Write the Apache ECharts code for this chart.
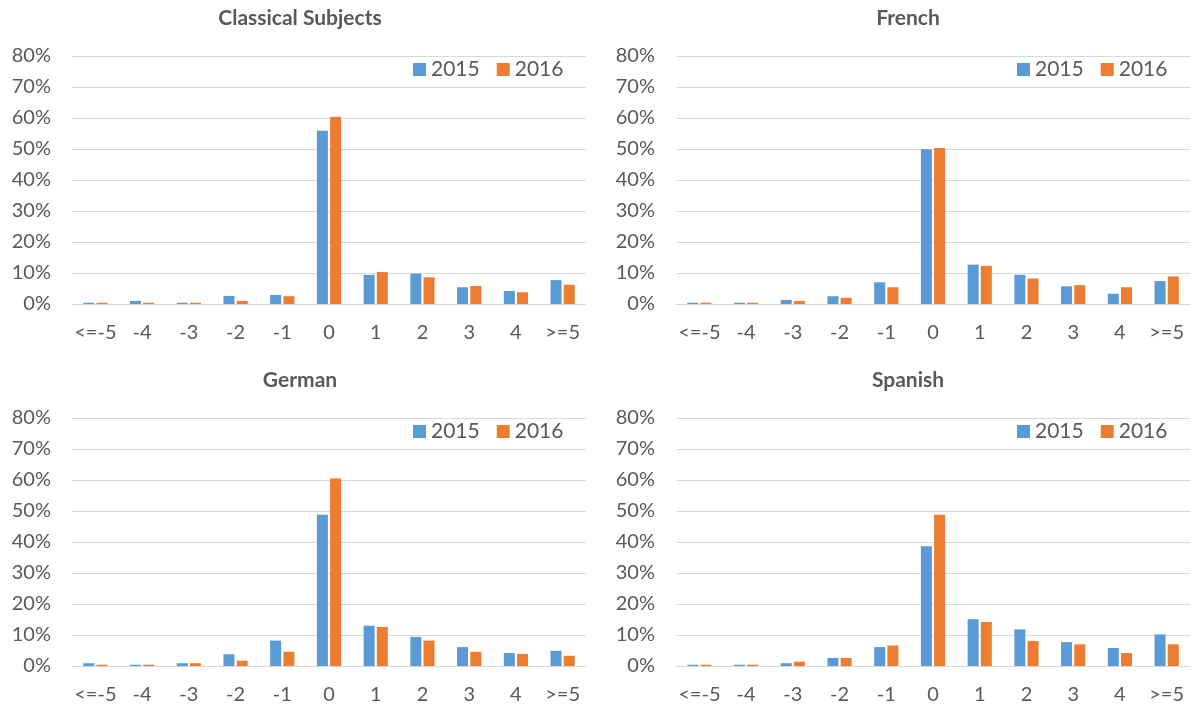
<!DOCTYPE html>
<html>
<head>
<meta charset="utf-8">
<title>Grade changes 2015 vs 2016</title>
<script src="https://cdn.jsdelivr.net/npm/echarts@6/dist/echarts.min.js"></script>
<style>
  html, body { margin: 0; padding: 0; background: #fff; }
  #chart { width: 1192px; height: 711px; }
</style>
</head>
<body>
<div id="chart"></div>
<script>
// categories (grade difference)
var categories = ['<=-5', '-4', '-3', '-2', '-1', '0', '1', '2', '3', '4', '>=5']
var years = ['2015', '2016']
var subjects = ['Classical Subjects', 'French', 'German', 'Spanish']

// shares in percent
var classical2015 = [0.4, 1.0, 0.4, 2.6, 2.9, 55.9, 9.4, 9.8, 5.4, 4.2, 7.7]
var classical2016 = [0.4, 0.4, 0.4, 1.0, 2.5, 60.4, 10.3, 8.6, 5.8, 3.8, 6.2]
var french2015 = [0.4, 0.4, 1.3, 2.5, 7.0, 49.9, 12.7, 9.4, 5.7, 3.3, 7.4]
var french2016 = [0.4, 0.4, 1.0, 2.0, 5.4, 50.3, 12.3, 8.2, 6.1, 5.4, 8.9]
var german2015 = [0.9, 0.4, 0.9, 3.8, 8.2, 48.8, 13.0, 9.4, 6.1, 4.2, 4.9]
var german2016 = [0.4, 0.4, 0.9, 1.7, 4.6, 60.5, 12.6, 8.2, 4.6, 3.9, 3.3]
var spanish2015 = [0.4, 0.4, 0.9, 2.6, 6.1, 38.6, 15.1, 11.8, 7.7, 5.8, 10.2]
var spanish2016 = [0.4, 0.4, 1.4, 2.6, 6.6, 48.8, 14.2, 8.1, 7.0, 4.2, 7.0]

var seriesData = [
  [classical2015, classical2016],
  [french2015, french2016],
  [german2015, german2016],
  [spanish2015, spanish2016]
]

var colors = ['#5b9bd5', '#ed7d31']
var textColor = '#595959'
var lineColor = '#d9d9d9'
var font = 'Lato'

// panel placement: [plot left, plot top, title center x]
var panels = [
  [72, 56, 300],
  [676, 56, 908],
  [72, 418, 300],
  [676, 418, 908]
]
var plotWidth = 514
var plotHeight = 248

var chart = echarts.init(document.getElementById('chart'))

var option = {
  backgroundColor: '#fff',
  animation: false,
  color: colors,
  title: [],
  legend: [],
  grid: [],
  xAxis: [],
  yAxis: [],
  series: []
}

panels.forEach(function (p, i) {
  option.title.push({
    text: subjects[i],
    left: p[2],
    top: p[1] - 48,
    textAlign: 'center',
    padding: 0,
    textStyle: {
      fontFamily: font,
      fontWeight: 'bold',
      fontSize: 21,
      color: textColor
    }
  })
  option.legend.push({
    data: years,
    left: p[0] + 341,
    top: p[1] + 3,
    padding: 0,
    icon: 'rect',
    itemWidth: 13,
    itemHeight: 13,
    itemGap: 17,
    textStyle: {
      fontFamily: font,
      fontSize: 21,
      color: textColor
    }
  })
  option.grid.push({
    left: p[0],
    top: p[1],
    width: plotWidth,
    height: plotHeight,
    containLabel: false
  })
  option.xAxis.push({
    type: 'category',
    gridIndex: i,
    data: categories,
    axisTick: { show: false },
    axisLine: { lineStyle: { color: lineColor, width: 1 } },
    axisLabel: {
      interval: 0,
      margin: 19,
      fontFamily: font,
      fontSize: 20,
      color: textColor
    }
  })
  option.yAxis.push({
    type: 'value',
    gridIndex: i,
    min: 0,
    max: 80,
    interval: 10,
    axisLine: { show: false },
    axisTick: { show: false },
    axisLabel: {
      formatter: '{value}%',
      margin: 21,
      fontFamily: font,
      fontSize: 20,
      color: textColor
    },
    splitLine: { lineStyle: { color: lineColor, width: 1 } }
  })
  years.forEach(function (y, k) {
    option.series.push({
      name: y,
      type: 'bar',
      xAxisIndex: i,
      yAxisIndex: i,
      barWidth: 11,
      barGap: '20%',
      itemStyle: { color: colors[k] },
      data: seriesData[i][k]
    })
  })
})

chart.setOption(option)
</script>
</body>
</html>
